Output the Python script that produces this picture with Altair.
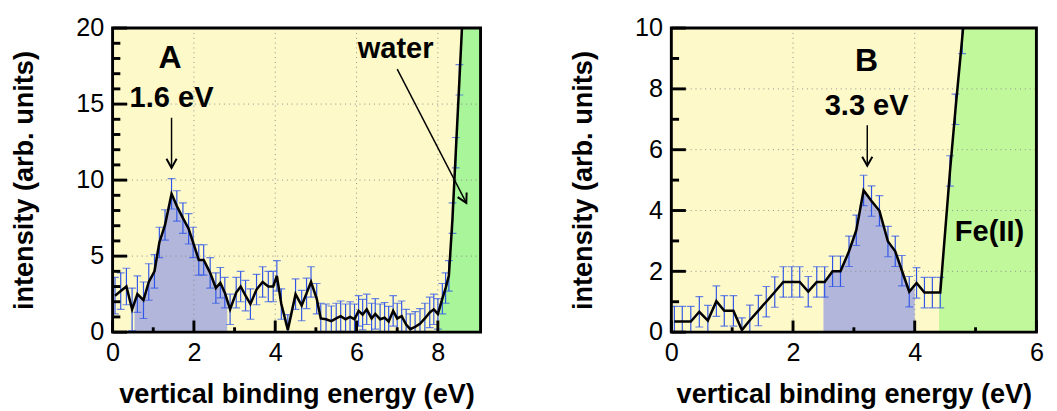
import altair as alt
import pandas as pd
import numpy as np

# ---------------- Panel A data ----------------
a_x = [0.06, 0.20, 0.34, 0.48, 0.61, 0.76, 0.89, 1.03, 1.15, 1.29, 1.45, 1.58, 1.73, 1.87, 1.98,
       2.12, 2.24, 2.40, 2.54, 2.65, 2.76, 2.89, 3.04, 3.15, 3.27, 3.39, 3.54, 3.69, 3.83, 3.95,
       4.04, 4.15, 4.31, 4.50, 4.65, 4.77, 4.88, 5.02, 5.12, 5.25, 5.38, 5.50, 5.61, 5.73, 5.84,
       5.95, 6.05, 6.15, 6.25, 6.37, 6.46, 6.58, 6.69, 6.79, 6.90, 7.00, 7.11, 7.22, 7.32, 7.44,
       7.56, 7.68, 7.80, 7.90, 8.00, 8.11, 8.19, 8.27, 8.36, 8.44, 8.53, 8.62]
a_y = [2.4, 2.7, 3.0, 1.5, 2.5, 2.1, 3.3, 4.0, 5.9, 7.05, 9.1, 8.3, 7.5, 6.8, 5.9,
       4.75, 4.75, 3.9, 2.9, 3.25, 2.6, 1.5, 2.6, 3.0, 2.4, 1.85, 2.8, 3.3, 3.0, 3.0,
       3.7, 1.85, 0.15, 2.5, 1.75, 2.55, 3.3, 2.2, 0.9, 0.85, 0.72, 0.9, 1.05, 0.85, 1.0,
       0.85, 1.4, 1.15, 1.5, 0.9, 1.2, 0.85, 0.95, 0.7, 1.4, 0.9, 1.05, 0.5, 0.2, 0.35,
       0.55, 0.9, 1.3, 1.5, 1.2, 2.2, 2.9, 3.7, 7.5, 11.8, 16.6, 21.5]
a_err = [1.2, 1.2, 1.2, 1.4, 1.2, 1.2, 1.2, 1.1, 1.0, 1.0, 1.0, 1.0, 1.0, 1.0, 1.0,
         1.0, 1.0, 1.0, 1.0, 1.0, 1.0, 1.0, 1.0, 1.0, 1.0, 1.0, 1.0, 1.0, 1.0, 1.0,
         1.0, 1.0, 1.0, 1.0, 1.0, 1.0, 1.0, 1.0, 1.0, 1.0, 1.0, 1.0, 1.0, 1.0, 1.0,
         1.0, 1.0, 1.0, 1.0, 1.0, 1.0, 1.0, 1.0, 1.0, 1.0, 1.0, 1.0, 1.0, 1.0, 1.0,
         1.0, 1.0, 1.0, 1.0, 1.0, 1.0, 1.0, 1.0, 1.0, 1.0, 1.0, 1.0]

# ---------------- Panel B data ----------------
b_x = [0.05, 0.18, 0.32, 0.46, 0.60, 0.74, 0.87, 1.02, 1.16, 1.29, 1.43, 1.56, 1.70, 1.84, 1.98,
       2.11, 2.25, 2.39, 2.52, 2.65, 2.78, 2.92, 3.04, 3.16, 3.29, 3.42, 3.56, 3.68, 3.79, 3.91,
       4.03, 4.16, 4.29, 4.42, 4.58, 4.67, 4.78, 4.88]
b_y = [0.35, 0.35, 0.35, 0.67, 0.38, 1.02, 0.70, 0.70, 0.07, 0.39, 0.71, 1.00, 1.32, 1.65, 1.65,
       1.65, 1.33, 1.65, 1.65, 2.00, 2.00, 2.66, 3.35, 4.66, 4.31, 3.99, 2.98, 2.66, 2.02, 1.33,
       1.62, 1.30, 1.30, 1.30, 5.30, 7.33, 9.66, 11.9]
b_err = [0.5] * 8 + [0.4] + [0.5] * 29

# shaded regions (eV)
a_blue = [0.54, 2.82]
a_green_start = 8.04
b_blue = [2.50, 4.00]
b_green_start = 4.40

# axes
a_xmax, a_ymax = 9.05, 20
b_xmax, b_ymax = 6.0, 10
a_xmajor, a_xminor = [0, 2, 4, 6, 8], [1, 3, 5, 7]
a_ymajor, a_yminor = [0, 5, 10, 15, 20], [1, 2, 3, 4, 6, 7, 8, 9, 11, 12, 13, 14, 16, 17, 18, 19]
b_xmajor, b_xminor = [0, 2, 4, 6], [1, 3, 5]
b_ymajor, b_yminor = [0, 2, 4, 6, 8, 10], [1, 3, 5, 7, 9]

# annotations (data units)
a_big = {"x": [1.41], "y": [18.0], "t": ["A"]}
a_txt = {"x": [1.45, 6.96], "y": [15.4, 18.6], "t": ["1.6 eV", "water"]}
a_arrows = {"x0": [1.45, 7.0], "y0": [14.1, 17.3], "x1": [1.45, 8.70], "y1": [10.8, 8.5]}
b_big = {"x": [3.21], "y": [8.92], "t": ["B"]}
b_txt = {"x": [3.21, 5.23], "y": [7.44, 3.3], "t": ["3.3 eV", "Fe(II)"]}
b_arrows = {"x0": [3.22], "y0": [6.8], "x1": [3.22], "y1": [5.47]}

YELLOW = "#fdf9c9"
BLUE_FILL = "#b1b6da"
A_GREEN = "#a8f59a"
B_GREEN = "#c2f89c"
ERR_COL = "#2f55e8"
FONT = "Liberation Sans"
CHEVRON = "M-1,-1.8L0,0L1,-1.8"

H = 314


def region(xs, ys, x0, x1):
    xs = np.asarray(xs, float)
    ys = np.asarray(ys, float)
    inside = (xs > x0) & (xs < x1)
    px = [x0] + list(xs[inside]) + [x1]
    py = [float(np.interp(x0, xs, ys))] + list(ys[inside]) + [float(np.interp(x1, xs, ys))]
    return pd.DataFrame({"x": px, "y": py})


def panel(xs, ys, errs, xmax, ymax, blue, gstart, gcol, xmaj, xmin, ymaj, ymin,
          big, txt, arrows, W):
    xsc = alt.Scale(domain=[0, xmax], nice=False, zero=False, padding=0)
    ysc = alt.Scale(domain=[0, ymax], nice=False, zero=False, padding=0)
    xaxis = alt.Axis(values=xmaj, title="vertical binding energy (eV)", grid=False,
                     ticks=False, domain=False, labelPadding=8, titlePadding=17,
                     labelFlush=False, format="d")
    yaxis = alt.Axis(values=ymaj, title="intensity (arb. units)", grid=False,
                     ticks=False, domain=False, labelPadding=9, titlePadding=39,
                     labelFlush=False, format="d")

    def X(f):
        return alt.X(f, scale=xsc, axis=xaxis, title="vertical binding energy (eV)")

    def Y(f):
        return alt.Y(f, scale=ysc, axis=yaxis, title="intensity (arb. units)")

    ys_a = np.asarray(ys, float)
    er = np.asarray(errs, float)
    df = pd.DataFrame({"x": xs, "y": ys_a, "lo": ys_a - er, "hi": ys_a + er})

    green = alt.Chart(region(xs, ys, gstart, xmax)).mark_area(color=gcol, clip=True).encode(
        x=X("x:Q"), y=Y("y:Q"))
    bl = alt.Chart(region(xs, ys, blue[0], blue[1])).mark_area(color=BLUE_FILL, clip=True).encode(
        x=X("x:Q"), y=Y("y:Q"))

    gx = alt.Chart(pd.DataFrame({"v": xmaj})).mark_rule(
        color="#8a8a8a", strokeWidth=1, strokeDash=[1, 4]).encode(
        x=X("v:Q"), y=alt.value(0), y2=alt.value(H))
    gy = alt.Chart(pd.DataFrame({"v": ymaj})).mark_rule(
        color="#8a8a8a", strokeWidth=1, strokeDash=[1, 4]).encode(
        y=Y("v:Q"), x=alt.value(0), x2=alt.value(W))

    base = alt.Chart(df)
    ebar = base.mark_rule(color=ERR_COL, strokeWidth=1.2, clip=True).encode(
        x=X("x:Q"), y=Y("lo:Q"), y2="hi:Q")
    cap_lo = base.mark_tick(color=ERR_COL, orient="horizontal", size=8, thickness=1.2, clip=True).encode(
        x=X("x:Q"), y=Y("lo:Q"))
    cap_hi = base.mark_tick(color=ERR_COL, orient="horizontal", size=8, thickness=1.2, clip=True).encode(
        x=X("x:Q"), y=Y("hi:Q"))
    line = base.mark_line(color="black", strokeWidth=2.6, clip=True).encode(
        x=X("x:Q"), y=Y("y:Q"))

    tk = []
    for vals, L in ((ymaj, 15), (ymin, 8)):
        tk.append(alt.Chart(pd.DataFrame({"v": vals})).mark_rule(color="black", strokeWidth=3).encode(
            y=Y("v:Q"), x=alt.value(0), x2=alt.value(L)))
    for vals, L in ((xmaj, 12), (xmin, 5)):
        tk.append(alt.Chart(pd.DataFrame({"v": vals})).mark_rule(color="black", strokeWidth=3).encode(
            x=X("v:Q"), y=alt.value(H), y2=alt.value(H - L)))

    frame = alt.Chart(pd.DataFrame({"v": [0]})).mark_rect(
        filled=False, stroke="black", strokeWidth=3).encode(
        x=alt.value(0), x2=alt.value(W), y=alt.value(0), y2=alt.value(H))

    tbig = alt.Chart(pd.DataFrame(big)).mark_text(
        font=FONT, fontWeight="bold", fontSize=33, color="black", baseline="middle").encode(
        x=X("x:Q"), y=Y("y:Q"), text="t:N")
    ttxt = alt.Chart(pd.DataFrame(txt)).mark_text(
        font=FONT, fontWeight="bold", fontSize=30, color="black", baseline="middle").encode(
        x=X("x:Q"), y=Y("y:Q"), text="t:N")

    ar = pd.DataFrame(arrows)
    rows = []
    for i in range(len(ar)):
        rows.append({"id": i, "x": ar.x0[i], "y": ar.y0[i]})
        rows.append({"id": i, "x": ar.x1[i], "y": ar.y1[i]})
    shaft = alt.Chart(pd.DataFrame(rows)).mark_line(color="black", strokeWidth=1.5).encode(
        x=X("x:Q"), y=Y("y:Q"), detail="id:N")
    dxp = (ar.x1 - ar.x0) / xmax * W
    dyp = -(ar.y1 - ar.y0) / ymax * H
    ang = (-np.degrees(np.arctan2(dxp, dyp))) % 360
    heads = pd.DataFrame({"x": ar.x1, "y": ar.y1, "ang": ang})
    head = alt.Chart(heads).mark_point(
        shape=CHEVRON, filled=False, color="black", strokeWidth=2, size=110, opacity=1).encode(
        x=X("x:Q"), y=Y("y:Q"), angle=alt.Angle("ang:Q", scale=None))

    return alt.layer(green, bl, gx, gy, ebar, cap_lo, cap_hi, line, *tk, frame,
                     tbig, ttxt, shaft, head).properties(width=W, height=H)


pa = panel(a_x, a_y, a_err, a_xmax, a_ymax, a_blue, a_green_start, A_GREEN,
           a_xmajor, a_xminor, a_ymajor, a_yminor, a_big, a_txt, a_arrows, 380)
pb = panel(b_x, b_y, b_err, b_xmax, b_ymax, b_blue, b_green_start, B_GREEN,
           b_xmajor, b_xminor, b_ymajor, b_yminor, b_big, b_txt, b_arrows, 377)

chart = alt.hconcat(pa, pb, spacing=90).properties(
    padding={"left": 3, "top": 1, "right": 5, "bottom": 5}
).configure_view(fill=YELLOW, stroke=None).configure_axis(
    labelFont=FONT, labelFontSize=26, labelColor="black",
    titleFont=FONT, titleFontSize=28, titleFontWeight="bold", titleColor="black"
)

chart.save("out.html", embed_options={"renderer": "svg", "actions": False})
